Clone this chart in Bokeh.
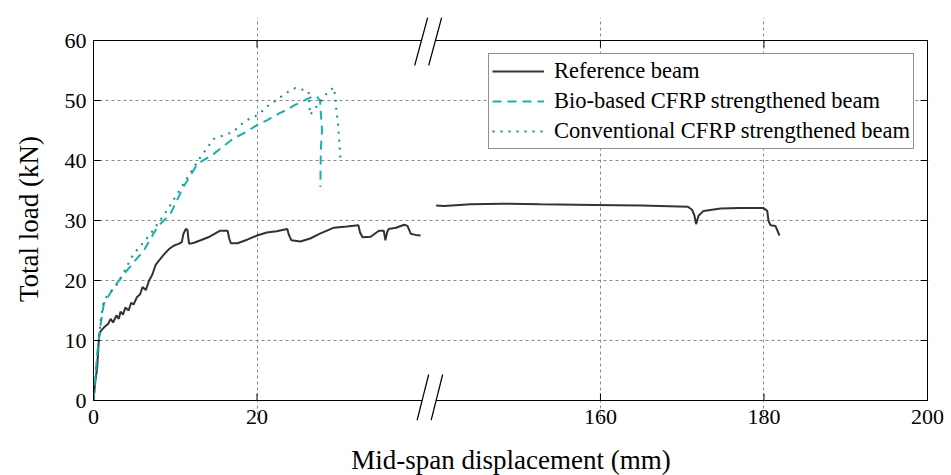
from bokeh.plotting import figure
from bokeh.models import FixedTicker, Range1d, Legend, LegendItem
from bokeh.embed import file_html
from bokeh.resources import INLINE

# ---------------- data ----------------
REF_LEFT_X = [0, 0.2, 0.45, 0.6, 0.7, 0.9, 1.3, 1.8, 2.1, 2.4, 2.8, 3.1, 3.3, 3.6, 3.9, 4.3, 4.6,
              4.9, 5.3, 5.7, 6.0, 6.4, 6.8, 7.2, 7.6, 8.0, 8.6, 9.2, 9.8, 10.4, 10.8, 11.0, 11.3,
              11.5, 11.6, 11.7, 12.3, 13.1, 14.2, 15.5, 16.4, 16.6, 16.8, 17.6, 18.8, 20.0, 21.2,
              22.4, 23.7, 23.9, 24.2, 25.3, 26.5, 27.7, 29.4, 31.0, 32.4, 32.6, 32.9, 33.9, 34.9,
              35.5, 35.7, 35.9, 36.1, 37.0, 38.0, 38.4, 38.8, 39.4, 40.0]
REF_LEFT_Y = [0, 3.0, 5.5, 9.0, 11.0, 11.6, 12.2, 12.8, 13.6, 13.0, 14.2, 13.6, 14.8, 14.3, 15.5,
              15.0, 16.3, 16.0, 17.2, 17.7, 18.9, 18.4, 20.0, 21.0, 22.6, 23.3, 24.3, 25.2, 25.8,
              26.1, 26.4, 27.8, 28.6, 28.4, 27.0, 26.1, 26.3, 26.7, 27.3, 28.3, 28.3, 27.0, 26.2,
              26.2, 26.8, 27.5, 28.0, 28.2, 28.6, 27.6, 26.7, 26.5, 27.0, 27.8, 28.8, 29.0, 29.2,
              28.0, 27.2, 27.3, 28.3, 28.3, 26.7, 28.0, 28.6, 28.8, 29.3, 29.1, 27.8, 27.6, 27.5]
REF_RIGHT_X = [139.9, 140.9, 144.1, 148.0, 152.7, 159.2, 165.0, 170.7, 171.2, 171.5, 171.7, 172.0,
               172.6, 174.7, 177.0, 179.9, 180.4, 180.55, 180.8, 181.4, 181.9]
REF_RIGHT_Y = [32.5, 32.4, 32.7, 32.8, 32.7, 32.6, 32.5, 32.3, 31.8, 30.8, 29.4, 30.8, 31.6, 32.0,
               32.1, 32.1, 31.6, 30.0, 29.2, 29.1, 27.5]
BIO_X = [0, 0.45, 0.77, 1.26, 2.5, 4.1, 6.15, 7.8, 9.4, 11.0, 12.7, 14.7, 16.75, 17.6, 18.6, 20.0,
         21.2, 22.65, 23.7, 24.7, 25.9, 26.9, 27.3, 27.7, 27.95, 27.8, 27.75]
BIO_Y = [0, 7.8, 11.7, 16.1, 18.9, 21.7, 25.0, 28.9, 31.1, 35.6, 39.4, 41.1, 43.3, 44.0, 44.7, 45.9,
         46.7, 47.8, 48.5, 49.3, 50.1, 50.7, 50.7, 50.0, 45.0, 41.7, 35.6]
CONV_X = [0, 0.5, 0.86, 1.26, 2.9, 4.9, 7.0, 9.0, 11.0, 13.1, 14.7, 16.96, 17.6, 18.3, 19.0, 19.8,
          20.5, 21.2, 22.0, 22.9, 23.75, 24.7, 25.6, 26.3, 26.4, 26.5, 27.1, 28.6, 29.4, 29.6,
          29.7, 29.9, 30.0, 30.1, 30.2]
CONV_Y = [0, 7.0, 13.3, 16.7, 19.4, 24.4, 27.8, 31.7, 36.1, 40.6, 43.6, 44.7, 45.4, 46.3, 46.9, 47.4,
          48.05, 49.0, 49.7, 50.6, 51.4, 52.1, 51.8, 51.5, 49.4, 47.6, 48.7, 51.3, 52.2, 50.3,
          48.3, 46.4, 44.4, 42.5, 40.4]

X_TICKS = [0, 20, 160, 180, 200]
Y_TICKS = [0, 10, 20, 30, 40, 50, 60]
LABELS = ["Reference beam", "Bio-based CFRP strengthened beam", "Conventional CFRP strengthened beam"]

# broken x axis: values between BREAK_LO and BREAK_HI are cut out
BREAK_LO = 40.5
BREAK_HI = 138.5
GAP = BREAK_HI - BREAK_LO
X_MAX = 200
Y_MIN, Y_MAX = 0, 60


def squeeze(xs):
    return [x if x <= BREAK_LO else x - GAP for x in xs]


FONT = "Liberation Serif"
C_REF = "#333333"
C_BIO = "#1AB0B0"
C_CONV = "#13908F"

AX_W, AX_H = 834, 360          # size of the axes box in pixels
EXT_TOP, EXT_BOT = 23, 20      # extra room (px) so break marks can stick out of the box
X_SPAN = X_MAX - GAP
PX = X_SPAN / AX_W             # data units per pixel (x)
PY = (Y_MAX - Y_MIN) / AX_H    # data units per pixel (y)

p = figure(frame_width=AX_W + 1, frame_height=AX_H + EXT_TOP + EXT_BOT,
           x_range=Range1d(0, X_SPAN + PX),
           y_range=Range1d(Y_MIN - EXT_BOT * PY, Y_MAX + EXT_TOP * PY),
           output_backend="svg", toolbar_location=None,
           min_border_left=93, min_border_top=40 - EXT_TOP, min_border_right=20,
           min_border_bottom=50)
p.background_fill_color = "white"
p.border_fill_color = "white"
p.outline_line_color = None

xt = squeeze(X_TICKS)
overrides = {t: str(v) for t, v in zip(xt, X_TICKS)}

# grid (inner lines only, limited to the axes box)
p.xgrid.ticker = FixedTicker(ticks=xt[1:-1])
p.ygrid.ticker = FixedTicker(ticks=Y_TICKS[1:-1])
p.xgrid.bounds = (Y_MIN, Y_MAX)
p.ygrid.bounds = (0, X_SPAN)
for g in (p.xgrid, p.ygrid):
    g.grid_line_color = "#8a8a8a"
    g.grid_line_dash = "3 3"
    g.grid_line_width = 1

# axes
bottom = p.below[0]
left = p.left[0]
bottom.ticker = FixedTicker(ticks=xt)
bottom.major_label_overrides = overrides
left.ticker = FixedTicker(ticks=Y_TICKS)
left.bounds = (Y_MIN, Y_MAX)
for ax in (bottom, left):
    ax.major_tick_in = 7
    ax.major_tick_out = 0
    ax.minor_tick_in = 0
    ax.minor_tick_out = 0
    ax.axis_line_color = "black"
    ax.major_tick_line_color = "black"
    ax.major_label_text_font = FONT
    ax.major_label_text_color = "black"
    ax.major_label_text_font_size = "22px"
    ax.axis_label_text_font = FONT
    ax.axis_label_text_font_style = "normal"
    ax.axis_label_text_color = "black"
    ax.axis_label_text_font_size = "27px"
bottom.axis_line_color = None
bottom.major_tick_line_color = None
bottom.major_label_standoff = 9 - EXT_BOT
left.major_label_standoff = 7
bottom.axis_label = "Mid-span displacement (mm)"
left.axis_label = "Total load (kN)"
bottom.axis_label_standoff = 18
left.axis_label_standoff = 18

# box border (top, bottom, right) with a gap at the axis break, plus inward ticks
BRK = 40.1                      # where the break marks cross the border (squeezed units)
TOP_GAP = (BRK, BRK + 14 * PX)
BOT_GAP = (BRK + 0.7 * PX, BRK + 14.7 * PX)
bx0 = [0, TOP_GAP[1], 0, BOT_GAP[1], X_SPAN]
bx1 = [TOP_GAP[0], X_SPAN, BOT_GAP[0], X_SPAN, X_SPAN]
by0 = [Y_MAX, Y_MAX, Y_MIN, Y_MIN, Y_MIN]
by1 = [Y_MAX, Y_MAX, Y_MIN, Y_MIN, Y_MAX]
p.segment(x0=bx0, y0=by0, x1=bx1, y1=by1, line_color="black", line_width=1)
p.segment(x0=xt, y0=[Y_MAX] * len(xt), x1=xt, y1=[Y_MAX - 7 * PY] * len(xt),
          line_color="black", line_width=1)
p.segment(x0=xt, y0=[Y_MIN] * len(xt), x1=xt, y1=[Y_MIN + 7 * PY] * len(xt),
          line_color="black", line_width=1)
p.segment(x0=[X_SPAN] * len(Y_TICKS), y0=Y_TICKS,
          x1=[X_SPAN - 7 * PX] * len(Y_TICKS), y1=Y_TICKS,
          line_color="black", line_width=1)

# break marks (double slashes)
sx0, sy0, sx1, sy1 = [], [], [], []
for gap, ybase, (dxa, dya, dxb, dyb) in ((TOP_GAP, Y_MAX, (-6.7, -25, 6.3, 23)),
                                         (BOT_GAP, Y_MIN, (-5.0, -20, 6.6, 26))):
    for xc in gap:
        sx0.append(xc + dxa * PX)
        sy0.append(ybase + dya * PY)
        sx1.append(xc + dxb * PX)
        sy1.append(ybase + dyb * PY)
p.segment(x0=sx0, y0=sy0, x1=sx1, y1=sy1, line_color="black", line_width=1.2)

# curves
r_ref = p.line(squeeze(REF_LEFT_X), REF_LEFT_Y, line_color=C_REF, line_width=2)
p.line(squeeze(REF_RIGHT_X), REF_RIGHT_Y, line_color=C_REF, line_width=2)
r_bio = p.line(squeeze(BIO_X), BIO_Y, line_color=C_BIO, line_width=2, line_dash="9 6")
r_conv = p.line(squeeze(CONV_X), CONV_Y, line_color=C_CONV, line_width=2, line_dash="2 6")

legend = Legend(items=[LegendItem(label=LABELS[0], renderers=[r_ref]),
                       LegendItem(label=LABELS[1], renderers=[r_bio]),
                       LegendItem(label=LABELS[2], renderers=[r_conv])],
                location=(395, AX_H + EXT_BOT - 109), margin=0)
legend.label_text_font = FONT
legend.label_text_font_size = "22.5px"
legend.label_text_color = "black"
legend.border_line_color = "#222222"
legend.border_line_width = 1
legend.background_fill_alpha = 1
legend.glyph_width = 52
legend.glyph_height = 28
legend.label_height = 28
legend.spacing = 2
legend.padding = 3
legend.label_standoff = 10
p.add_layout(legend)

open("out.html", "w").write(file_html(p, INLINE))
